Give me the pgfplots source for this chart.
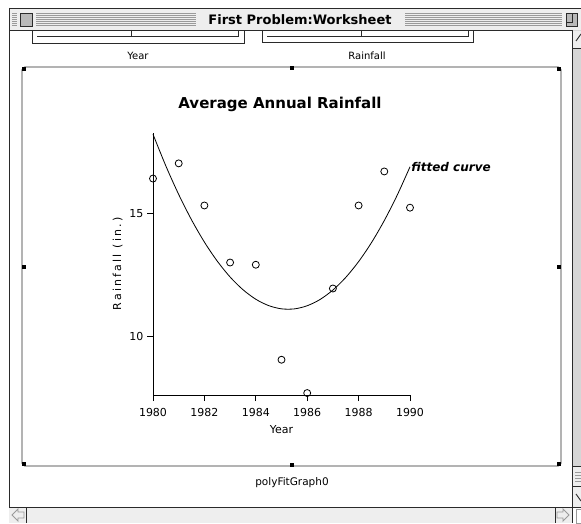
\documentclass[border=0pt]{standalone}
\usepackage{fontspec}
\setmainfont{DejaVu Sans}
\newfontfamily\spaced[LetterSpace=20]{DejaVu Sans}
\usepackage{pgfplots}
\pgfplotsset{compat=1.18}
\definecolor{barbg}{HTML}{EEEEEE}
\definecolor{stripe}{HTML}{9A9A9A}
\definecolor{edge}{HTML}{2A2A2A}
\definecolor{track}{HTML}{D6D6D6}

\begin{document}
\begin{tikzpicture}
% window chrome, pixel units with y pointing down
\begin{scope}[x=1pt,y=-1pt,shift={(0pt,523pt)},line width=0.9pt]
\useasboundingbox (0,0) rectangle (581,523);
\fill[white] (0,0) rectangle (581,523);
% title bar
\fill[barbg] (9,8) rectangle (581,30);
\foreach \yy in {13,15,...,25} {\draw[stripe,line width=0.8pt] (12,\yy) -- (578,\yy);}
\fill[barbg] (196,9) rectangle (405,29);
\fill[barbg] (17,10) rectangle (36,28);
\draw[edge,fill=stripe!70] (20,13) rectangle (32,26);
\fill[barbg] (562,10) rectangle (580,28);
\draw[edge,fill=stripe!70] (566,13) rectangle (577,26);
\draw[edge] (566,22) -- (572,22) -- (572,13);
\node[font=\fontsize{13}{14}\selectfont\bfseries] at (300,19.5) {First Problem:Worksheet};
\draw[edge] (9,8) -- (581,8);
\draw[edge] (9,8) -- (9,523);
\draw[edge] (9,30) -- (581,30);
% scroll bars
\fill[track] (572,30) rectangle (581,507);
\fill[barbg] (572,31) rectangle (581,48);
\fill[barbg] (572,466) rectangle (581,507);
\draw[edge] (572,30) -- (572,523);
\draw[edge] (572,48) -- (581,48);
\draw[edge] (572,466) -- (581,466);
\draw[edge] (572,486) -- (581,486);
\foreach \yy in {472,475,478,481} {\draw[stripe] (575,\yy) -- (581,\yy);}
\draw[edge] (576,41) -- (581,34);
\draw[edge] (576,494) -- (581,501);
\fill[barbg] (9,507) rectangle (572,523);
\draw[edge] (9,507) -- (581,507);
\draw[edge] (26,507) -- (26,523);
\draw[edge] (555,507) -- (555,523);
\draw[stripe] (12,515) -- (18,509) -- (18,512) -- (24,512) -- (24,518) -- (18,518) -- (18,521) -- cycle;
\draw[stripe] (569,515) -- (563,509) -- (563,512) -- (557,512) -- (557,518) -- (563,518) -- (563,521) -- cycle;
\draw[stripe] (576,509) rectangle (581,523);
% field boxes at top
\draw[edge] (32,30) -- (32,43) -- (244,43) -- (244,30);
\draw[edge] (37,36) -- (238,36) -- (238,30);
\draw[edge] (131,30) -- (131,36);
\draw[edge] (262,30) -- (262,42) -- (473,42) -- (473,30);
\draw[edge] (267,36) -- (468,36) -- (468,30);
\draw[edge] (361,30) -- (361,36);
\node[font=\fontsize{10}{12}\selectfont] at (138,56) {Year};
\node[font=\fontsize{10}{12}\selectfont] at (367,56) {Rainfall};
% graph frame
\draw[edge,rounded corners=3pt] (22,67) rectangle (561,466);
\foreach \px/\py in {24/69,292/68,559/69,24/267,559/267,24/464,292/465,559/464}
  {\fill[black] (\px-2,\py-2) rectangle (\px+2,\py+2);}
\node[font=\fontsize{10.5}{12}\selectfont] at (292,483) {polyFitGraph0};
\node[font=\fontsize{15}{16}\selectfont\bfseries] at (280,104) {Average Annual Rainfall};
\end{scope}

\begin{axis}[at={(153pt,128pt)},anchor=south west,scale only axis,
width=257pt,height=262pt,xmin=1980,xmax=1990,ymin=7.6,ymax=18.3,
axis x line*=bottom,axis y line*=left,axis line style={-,line width=0.9pt},
tick align=outside,major tick length=6pt,tick style={line width=0.9pt,black},
xtick={1980,1982,...,1990},ytick={10,15},
/pgf/number format/assume math mode=true,
x tick label style={/pgf/number format/1000 sep={},yshift=-4pt},
tick label style={font=\fontsize{11}{12}\selectfont},
xlabel={Year},ylabel={\spaced Rainfall (in.)},
label style={font=\fontsize{11}{12}\selectfont},
xlabel style={yshift=-2pt},clip=false]
\addplot[black,line width=0.8pt,smooth] coordinates {
(1980,18.249)(1980.5,16.955)(1981,15.789)(1981.5,14.753)(1982,13.845)
(1982.5,13.068)(1983,12.419)(1983.5,11.901)(1984,11.511)(1984.5,11.251)
(1985,11.119)(1985.5,11.117)(1986,11.245)(1986.5,11.501)(1987,11.887)
(1987.5,12.402)(1988,13.047)(1988.5,13.821)(1989,14.725)(1989.5,15.757)(1990,16.919)}
node[pos=1,anchor=west,inner sep=1pt,font=\fontsize{12}{13}\selectfont\bfseries\itshape] {fitted curve};
\addplot[only marks,mark=o,mark size=3.5pt,mark options={black,fill=white,line width=0.8pt}] coordinates {
(1980,16.44)(1981,17.06)(1982,15.34)(1983,13.01)(1984,12.92)(1985,9.04)
(1986,7.68)(1987,11.95)(1988,15.34)(1989,16.73)(1990,15.25)};
\end{axis}
\end{tikzpicture}
\end{document}
